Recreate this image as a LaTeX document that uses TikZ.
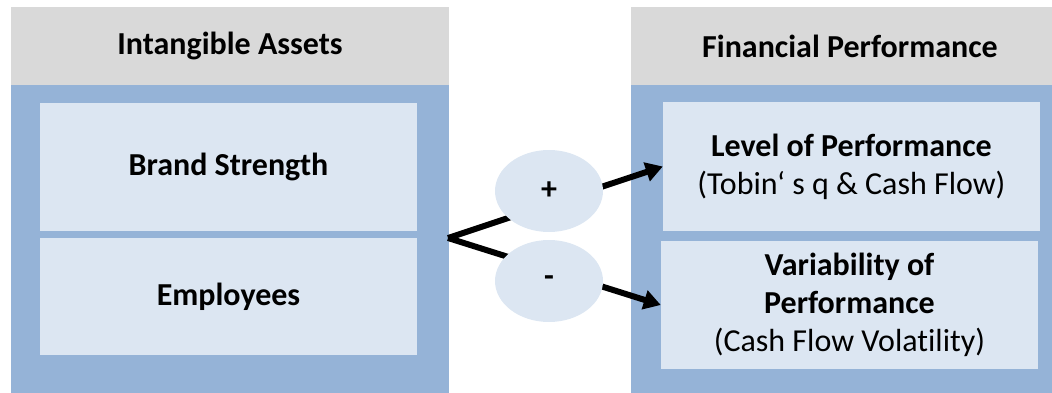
\documentclass[tikz,border=0pt]{standalone}
\usepackage{fontspec}
\setmainfont{Carlito}[Ligatures={NoCommon}]
\usetikzlibrary{shapes.geometric,arrows.meta}
\definecolor{headgray}{HTML}{D9D9D9}
\definecolor{panelblue}{HTML}{95B3D7}
\definecolor{paleblue}{HTML}{DCE6F2}
\tikzset{
  header/.style={fill=headgray, draw=none},
  panel/.style={fill=panelblue, draw=none},
  itembox/.style={fill=paleblue, draw=none, inner sep=0pt, align=center,
    font=\fontsize{32}{38}\selectfont},
  headtext/.style={font=\fontsize{32}{38}\selectfont\bfseries},
  signbubble/.style={ellipse, fill=paleblue, draw=none, minimum width=108pt,
    minimum height=82pt, inner sep=0pt, font=\fontsize{32}{38}\selectfont\bfseries},
  link/.style={line width=6pt, -{Triangle[length=17pt,width=19pt]}, line join=miter}
}
\begin{document}
\begin{tikzpicture}[x=1pt,y=-1pt]
\useasboundingbox (0,0) rectangle (1052,393);
% left panel
\fill[header] (11,7) rectangle (449,85);
\fill[panel] (11,85) rectangle (449,393);
\node[headtext] (lefthead) at (230,46) {Intangible Assets};
\node[itembox, minimum width=377pt, minimum height=128pt] (brand) at (228.5,167) {\bfseries Brand Strength};
\node[itembox, minimum width=377pt, minimum height=117pt] (empl) at (228.5,296.5) {\bfseries Employees};
% right panel
\fill[header] (631,7) rectangle (1052,85);
\fill[panel] (631,85) rectangle (1052,393);
\node[headtext] (righthead) at (850,46) {Financial Performance};
\node[itembox, minimum width=377pt, minimum height=129pt] (level) at (851.5,166.5)
  {\textbf{Level of Performance}\\(Tobin‘ s q \& Cash Flow)};
\node[itembox, minimum width=377pt, minimum height=128pt] (var) at (849.5,305)
  {\textbf{Variability of}\\\textbf{Performance}\\(Cash Flow Volatility)};
% connectors
\coordinate (fork) at (448,238);
\draw[link] (fork) -- (level.west);
\draw[link] (fork) -- (var.west);
% sign bubbles
\node[signbubble] (plus) at (549,191) {+};
\node[signbubble] (minus) at (549,281) {-};
\end{tikzpicture}
\end{document}
